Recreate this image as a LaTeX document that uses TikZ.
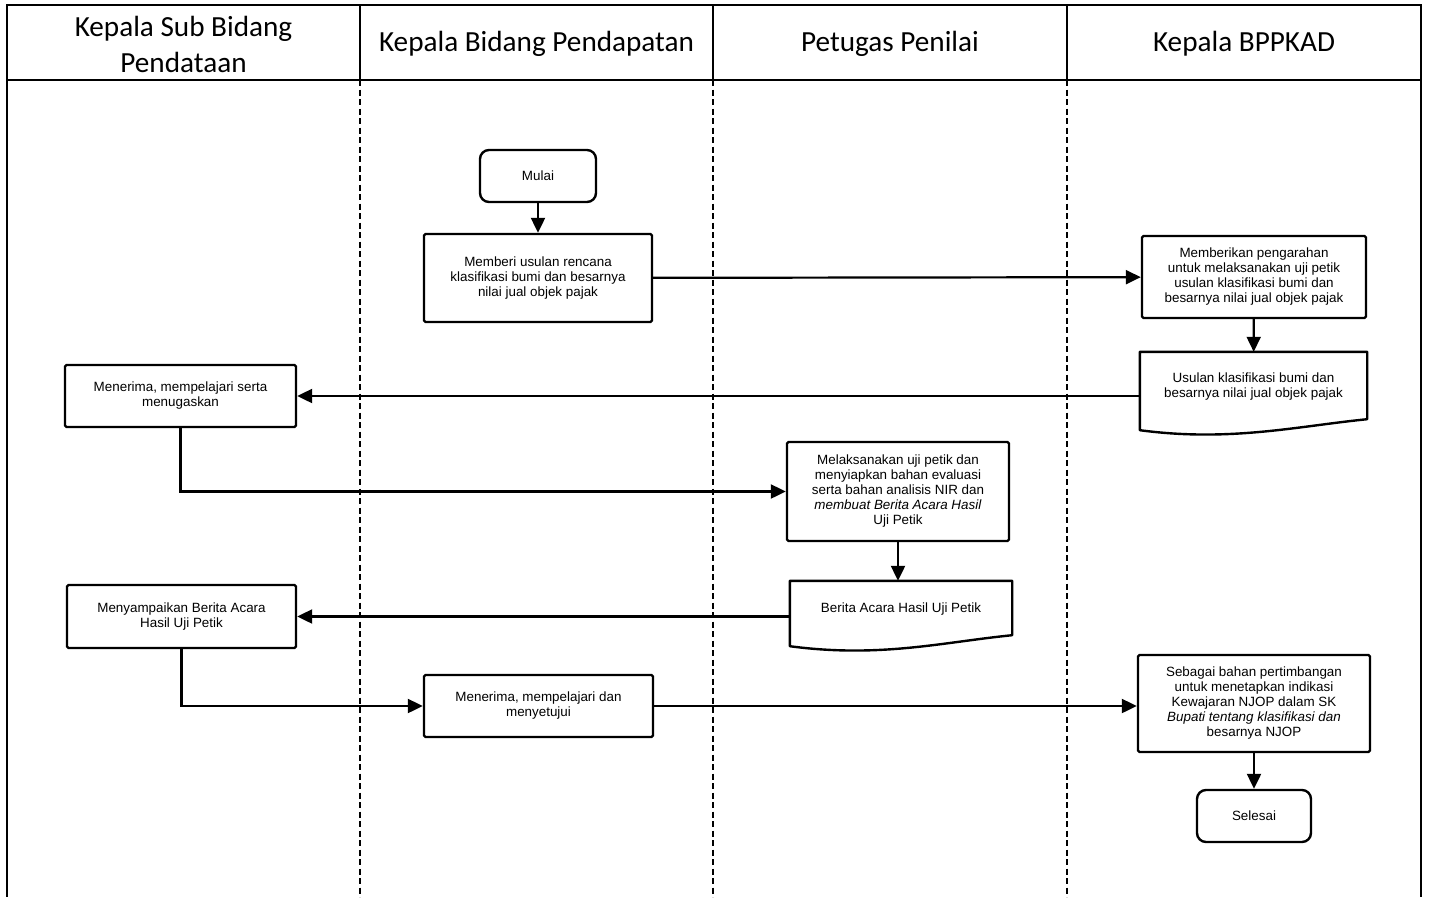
\documentclass[tikz,border=0pt]{standalone}
\usepackage{fontspec}
\setmainfont{Liberation Sans}
\newfontfamily\headfont{Carlito}
\usetikzlibrary{arrows.meta,calc}

\begin{document}
\begin{tikzpicture}[x=1pt,y=-1pt,
  lane/.style={line width=2pt},
  lanesep/.style={line width=2pt, dash pattern=on 6pt off 3.5pt},
  head/.style={font=\headfont\fontsize{29.2}{36}\selectfont, align=center},
  procbox/.style={draw, line width=2.4pt, rounded corners=1.5pt, inner sep=0pt,
                  align=center, font=\fontsize{13.4}{15}\selectfont},
  termbox/.style={procbox, rounded corners=9pt},
  docbox/.style={inner sep=0pt, align=center, font=\fontsize{13.4}{15}\selectfont},
  docline/.style={line width=2.4pt, line join=round},
  flow/.style={line width=2.2pt, -{Triangle[length=15pt,width=14pt]}}
]
\useasboundingbox (0,0) rectangle (1429,897);

% swimlane frame
\draw[lane] (7,5) rectangle (1421,80);
\draw[lane] (360,5) -- (360,80) (713,5) -- (713,80) (1067,5) -- (1067,80);
\draw[lane] (7,80) -- (7,897) (1421,80) -- (1421,897);
\draw[lanesep] (360,80) -- (360,897) (713,80) -- (713,897) (1067,80) -- (1067,897);

% lane titles
\node[head] (h1) at (183.5,44) {Kepala Sub Bidang\\Pendataan};
\node[head] (h2) at (536.5,44) {Kepala Bidang Pendapatan};
\node[head] (h3) at (890,44) {Petugas Penilai};
\node[head] (h4) at (1244,44) {Kepala BPPKAD};

% steps
\node[termbox, minimum width=116pt, minimum height=52pt] (mulai) at (538,176) {Mulai};
\node[procbox, minimum width=228pt, minimum height=88pt] (usul) at (538,278)
  {Memberi usulan rencana\\klasifikasi bumi dan besarnya\\nilai jual objek pajak};
\node[procbox, minimum width=224pt, minimum height=82pt] (arah) at (1254,277)
  {Memberikan pengarahan\\untuk melaksanakan uji petik\\usulan klasifikasi bumi dan\\besarnya nilai jual objek pajak};

% document shape: upper part is the node, wavy bottom drawn below it
\node[docbox, minimum width=227pt, minimum height=70pt] (doca) at (1253.5,387)
  {Usulan klasifikasi bumi dan\\besarnya nilai jual objek pajak};
\draw[docline] ($(doca.south west)+(0,8)$) -- (doca.north west) -- (doca.north east)
  -- ($(doca.south east)+(0,-3)$)
  .. controls ($(doca.south east)+(-70,4)$) and ($(doca.south west)+(90,20)$) .. ($(doca.south west)+(0,8)$) -- cycle;

\node[procbox, minimum width=231pt, minimum height=62pt] (tugas) at (180.5,396)
  {Menerima, mempelajari serta\\menugaskan};
\node[procbox, minimum width=222pt, minimum height=99pt] (uji) at (898,491.5)
  {Melaksanakan uji petik dan\\menyiapkan bahan evaluasi\\serta bahan analisis NIR dan\\\textit{membuat Berita Acara Hasil}\\Uji Petik};

\node[docbox, minimum width=222pt, minimum height=56pt] (docb) at (901,609)
  {Berita Acara Hasil Uji Petik};
\draw[docline] ($(docb.south west)+(0,9)$) -- (docb.north west) -- (docb.north east)
  -- ($(docb.south east)+(0,-2)$)
  .. controls ($(docb.south east)+(-70,5)$) and ($(docb.south west)+(90,21)$) .. ($(docb.south west)+(0,9)$) -- cycle;

\node[procbox, minimum width=229pt, minimum height=63pt] (sampai) at (181.5,616.5)
  {Menyampaikan Berita Acara\\Hasil Uji Petik};
\node[procbox, minimum width=229pt, minimum height=62pt] (setuju) at (538.5,706)
  {Menerima, mempelajari dan\\menyetujui};
\node[procbox, minimum width=232pt, minimum height=97pt] (timbang) at (1254,703.5)
  {Sebagai bahan pertimbangan\\untuk menetapkan indikasi\\Kewajaran NJOP dalam SK\\\textit{Bupati tentang klasifikasi dan}\\besarnya NJOP};
\node[termbox, minimum width=114pt, minimum height=52pt] (selesai) at (1254,816) {Selesai};

% connectors
\draw[flow] (mulai) -- (usul);
\draw[flow] (usul) -- (arah);
\draw[flow] (arah) -- (doca);
\draw[flow] (tugas.east -| doca.west) -- (tugas.east);
\draw[flow] (tugas.south) |- (uji.west);
\draw[flow] (uji.south) -- (uji.south |- docb.north);
\draw[flow] (sampai.east -| docb.west) -- (sampai.east);
\draw[flow] (sampai.south) |- (setuju.west);
\draw[flow] (setuju.east) -- (setuju.east -| timbang.west);
\draw[flow] (timbang) -- (selesai);
\end{tikzpicture}
\end{document}
